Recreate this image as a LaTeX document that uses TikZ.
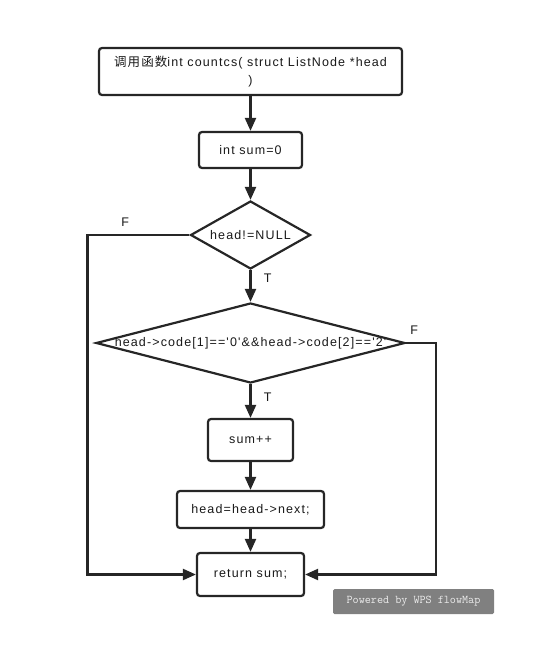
\documentclass[tikz,border=0pt]{standalone}
\usepackage{fontspec}
\setmainfont{Liberation Sans}[LetterSpace=9,Ligatures=TeXOff]
\newfontfamily\cjk{Noto Sans CJK SC}[LetterSpace=9]
\usetikzlibrary{shapes.geometric,arrows.meta,positioning}

\begin{document}
\begin{tikzpicture}[x=1pt,y=-1pt,
    font=\fontsize{12.5}{18}\selectfont,
    every node/.style={text=black!90},
    proc/.style={draw=black!85, line width=2.2pt, rounded corners=3pt, align=center, inner sep=0pt},
    decision/.style={diamond, draw=black!85, line width=2.2pt, inner sep=0pt},
    flow/.style={draw=black!85, line width=2.2pt, -{Triangle[length=13pt,width=11pt]}},
    tag/.style={font=\fontsize{12.5}{15}\selectfont}]
    \useasboundingbox (0,0) rectangle (556,658);

    \node[proc, minimum width=303, minimum height=47] (call) at (250.5,71.5) {{\cjk 调用函数}int countcs( struct ListNode *head\\)};
    \node[proc, minimum width=103, minimum height=36] (init) at (250.5,150) {int sum=0};
    \node[decision, minimum width=120, minimum height=68] (loop) at (250.5,235) {\makebox[0pt]{head!=NULL}};
    \node[decision, minimum width=309, minimum height=80] (match) at (250.5,343) {\makebox[0pt]{head->code[1]=='0'\&\&head->code[2]=='2'}};
    \node[proc, minimum width=85, minimum height=42] (inc) at (250.5,440) {sum++};
    \node[proc, minimum width=147, minimum height=37] (next) at (250.5,509.5) {head=head->next;};
    \node[proc, minimum width=107, minimum height=43] (ret) at (250.5,574.5) {return sum;};

    \draw[flow] (call) -- (init);
    \draw[flow] (init) -- (loop);
    \draw[flow] (loop) -- (match) node[tag, pos=0.24, right=9pt] {T};
    \draw[flow] (match) -- (inc) node[tag, pos=0.39, right=9pt] {T};
    \draw[flow] (inc) -- (next);
    \draw[flow] (next) -- (ret);
    \draw[flow] (loop.west) -- ++(-102,0) node[tag, pos=0.63, above=4pt] {F} |- (ret.west);
    \draw[flow] (match.east) -- ++(30,0) node[tag, pos=0.27, above=4pt] {F} |- (ret.east);

    \node[fill=black!50, rounded corners=1.5pt, minimum width=161, minimum height=25, text=black!8,
        font=\ttfamily\fontsize{11.8}{13}\selectfont] (mark) at (413.5,601.5) {Powered by WPS flowMap};
\end{tikzpicture}
\end{document}
